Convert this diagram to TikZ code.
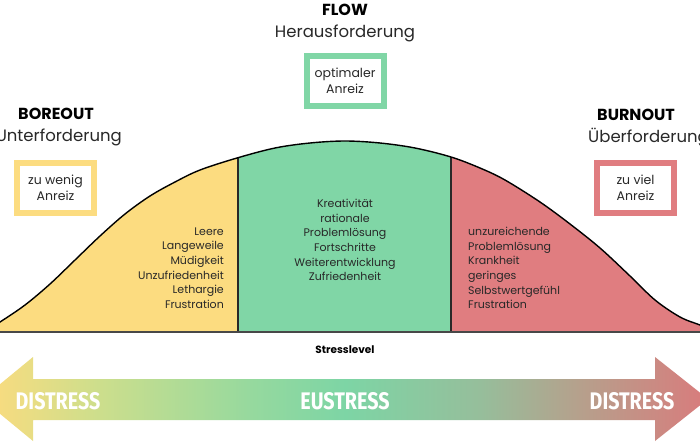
\documentclass[tikz,border=0pt]{standalone}
\usepackage{fontspec}
\setmainfont{Poppins}
\newfontfamily\condfont[FakeStretch=0.82]{Fira Sans}
\definecolor{cy}{RGB}{252,220,128}
\definecolor{cg}{RGB}{128,214,166}
\definecolor{cr}{RGB}{224,125,128}
\definecolor{ink}{RGB}{40,40,40}
\definecolor{s0}{RGB}{247,220,128}
\definecolor{s1}{RGB}{205,222,140}
\definecolor{s2}{RGB}{150,217,158}
\definecolor{s3}{RGB}{125,213,165}
\definecolor{s4}{RGB}{150,190,155}
\definecolor{s5}{RGB}{182,160,140}
\definecolor{s6}{RGB}{215,125,125}
\pgfdeclarehorizontalshading{stressgrad}{100bp}{color(0bp)=(s0); color(26bp)=(s0); color(33bp)=(s1); color(43.5bp)=(s2); color(50bp)=(s3); color(59.3bp)=(s4); color(66.2bp)=(s5); color(74.5bp)=(s6); color(100bp)=(s6)}
\def\bellcurve{plot[smooth,tension=0.55] coordinates {(-15,331) (0,322) (25,305) (50,284) (75,260) (100,236) (125,214) (150,196) (175,182) (200,170) (237,158) (275,148) (310,143) (345,141) (380,143) (415,148) (451,157) (480,168) (505,180) (540,202) (570,224) (600,248) (630,276) (655,300) (680,317) (700,325) (715,331)}}
\tikzset{
  anreizbox/.style={draw=#1, line width=6pt, fill=white, minimum width=77pt, minimum height=50pt, align=center, font=\fontsize{12.5}{16}\selectfont, text=ink, inner sep=0pt},
  listtext/.style={font=\fontsize{11}{14.7}\selectfont, text=ink, inner sep=0pt},
  titlebold/.style={font=\fontsize{16}{18}\selectfont\bfseries, text=black, inner sep=0pt},
  titlereg/.style={font=\fontsize{16.5}{18}\selectfont, text=ink, inner sep=0pt},
  stresstext/.style={font=\condfont\bfseries\fontsize{24}{26}\selectfont, text=white, inner sep=0pt}
}
\begin{document}
\begin{tikzpicture}[x=1pt,y=-1pt]
\useasboundingbox (0,0) rectangle (700,441);
% regions under curve
\begin{scope}
  \clip (-20,0) rectangle (238,332);
  \fill[cy] \bellcurve -- (715,332) -- (-15,332) -- cycle;
\end{scope}
\begin{scope}
  \clip (238,0) rectangle (451,332);
  \fill[cg] \bellcurve -- (715,332) -- (-15,332) -- cycle;
\end{scope}
\begin{scope}
  \clip (451,0) rectangle (720,332);
  \fill[cr] \bellcurve -- (715,332) -- (-15,332) -- cycle;
\end{scope}
\begin{scope}
  \clip \bellcurve -- (715,332) -- (-15,332) -- cycle;
  \draw[line width=1.4pt, ink] (238,0) -- (238,332);
  \draw[line width=1.4pt, ink] (451,0) -- (451,332);
\end{scope}
\draw[line width=1.4pt, black] \bellcurve;
\draw[line width=2pt, ink!85] (0,332) -- (700,332);
% titles
\node[titlebold] (boreout) at (56,114) {BOREOUT};
\node[titlereg, anchor=east] (unter) at (122,137) {Unterforderung};
\node[titlebold] (flow) at (345,10) {FLOW};
\node[titlereg] (heraus) at (345,33) {Herausforderung};
\node[titlebold] (burnout) at (636,115) {BURNOUT};
\node[titlereg, anchor=west] (ueber) at (588,138) {Überforderung};
% boxes
\node[anreizbox=cy] (boxy) at (55.5,188) {zu wenig\\Anreiz};
\node[anreizbox=cg] (boxg) at (345,81) {optimaler\\Anreiz};
\node[anreizbox=cr] (boxr) at (635.5,188) {zu viel\\Anreiz};
% lists
\node[listtext, align=right, anchor=east] (listy) at (224,268) {Leere\\Langeweile\\Müdigkeit\\Unzufriedenheit\\Lethargie\\Frustration};
\node[listtext, align=center] (listg) at (345,240) {Kreativität\\rationale\\Problemlösung\\Fortschritte\\Weiterentwicklung\\Zufriedenheit};
\node[listtext, align=left, anchor=west] (listr) at (468,268) {unzureichende\\Problemlösung\\Krankheit\\geringes\\Selbstwertgefühl\\Frustration};
% stresslevel
\node[font=\fontsize{10.5}{12}\selectfont\bfseries, text=black, inner sep=0pt] (level) at (345,350) {Stresslevel};
% arrow
\shade[shading=stressgrad] (-18,399) -- (33,357) -- (33,379) -- (655,379) -- (655,357) -- (708,399) -- (655,441) -- (655,420) -- (33,420) -- (33,441) -- cycle;
\node[stresstext] (d1) at (58,401) {DISTRESS};
\node[stresstext] (eu) at (345,401) {EUSTRESS};
\node[stresstext] (d2) at (632,401) {DISTRESS};
\end{tikzpicture}
\end{document}
